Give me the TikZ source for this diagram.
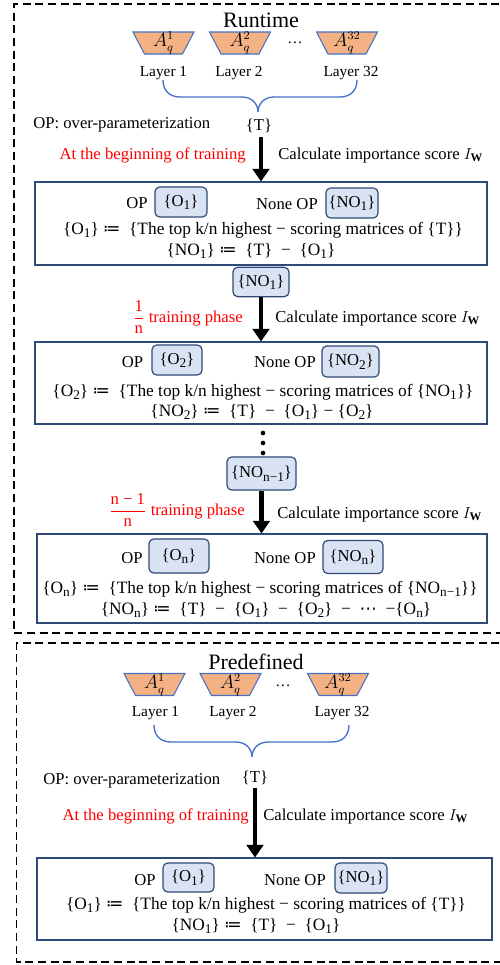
\documentclass[tikz,border=0pt]{standalone}
\usepackage{amsmath}
\usepackage{fontspec}
\setmainfont{Liberation Serif}
\newfontfamily\symf{DejaVu Sans}
\usetikzlibrary{arrows.meta}
\definecolor{boxc}{HTML}{2F4A78}
\definecolor{sfill}{HTML}{DAE3F3}
\definecolor{trapfill}{HTML}{F4B183}
\definecolor{trapline}{HTML}{4472C4}
\newcommand\sbs[1]{\raisebox{-0.45ex}{\fontsize{10}{12}\selectfont #1}}
\newcommand\ceq{{\symf ≔}}
\newcommand\mydots{{\symf ⋯}}
\newcommand\trapz[4]{%
  \draw[trap] (#1-30.5,#2-11) -- (#1+30.5,#2-11) -- (#1+19,#2+11) -- (#1-19,#2+11) -- cycle;
  \node[inner sep=0pt, font=\fontsize{13.5}{15}\selectfont] (#3) at (#1,#2) {#4};}
\begin{document}
\begin{tikzpicture}[x=0.75pt,y=-0.75pt,
  frame/.style={draw, line width=1.1pt, dash pattern=on 6pt off 3.5pt},
  bigbox/.style={draw=boxc, line width=0.8pt, inner sep=0pt},
  sbox/.style={draw=boxc, fill=sfill, rounded corners=3.5pt, line width=0.9pt, inner sep=0pt, font=\fontsize{12.5}{14}\selectfont},
  txt/.style={inner sep=0pt, font=\fontsize{12.5}{14}\selectfont},
  lay/.style={inner sep=0pt, font=\fontsize{11.5}{13}\selectfont},
  eq/.style={inner sep=0pt, font=\fontsize{13}{15}\selectfont},
  titletxt/.style={inner sep=0pt, font=\fontsize{16.5}{19}\selectfont},
  redtxt/.style={txt, text=red},
  trap/.style={draw=trapline, fill=trapfill, line width=0.8pt},
  brace/.style={draw=trapline, line width=1pt},
  bigarrow/.style={line width=3.3pt, -{Triangle[length=9.5pt,width=12.5pt]}},
  dotn/.style={circle, fill=black, inner sep=0pt, minimum size=3.5pt},
]
\useasboundingbox (0,0) rectangle (500,965);

% frames
\draw[frame] (512,4) -- (14,4) -- (14,633) -- (512,633);
\draw[frame] (512,643) -- (16.5,643) -- (16.5,962) -- (512,962);

% ---------------- Runtime ----------------
\node[titletxt] (rt) at (261,20) {Runtime};
\trapz{163.5}{43}{ta1}{$A_q^1$}
\trapz{240}{43}{ta2}{$A_q^2$}
\trapz{347}{43}{ta3}{$A_q^{32}$}
\node[lay] (tdots) at (295,43) {…};
\node[lay] (l1) at (163.5,73) {Layer 1};
\node[lay] (l2) at (239,73) {Layer 2};
\node[lay] (l3) at (351,73) {Layer 32};
\draw[brace] (163,80) .. controls (163,91) and (170,97) .. (180,97) -- (242,97)
  .. controls (252,97) and (258,104) .. (258,112)
  .. controls (258,104) and (264,97) .. (274,97) -- (340,97)
  .. controls (350,97) and (357,91) .. (357,80);
\node[txt, anchor=west] (op1) at (33,125) {OP: over-parameterization};
\node[txt] (T1) at (259,126) {\{T\}};
\node[redtxt, anchor=east] (r1) at (246,155) {At the beginning of training};
\node[txt, anchor=west] (c1) at (278,155) {Calculate importance score $I_{\mathbf{W}}$};

\node[bigbox, minimum width=339pt, minimum height=62.25pt] (b1) at (261,223.5) {};
\draw[bigarrow, shorten <=3pt] (T1.south -| b1.north) -- (b1.north);
\node[txt] (op1a) at (137,203) {OP};
\node[sbox, minimum width=39pt, minimum height=22.5pt] (o1) at (181,202) {\{O\sbs{1}\}};
\node[txt] (nop1) at (287,204) {None OP};
\node[sbox, minimum width=39pt, minimum height=22.5pt] (no1a) at (352,203) {\{NO\sbs{1}\}};
\node[eq] (e1a) at (263,230) {\{O\sbs{1}\} \ceq\ \ \{The top k/n highest − scoring matrices of \{T\}\}};
\node[eq] (e1b) at (251,251) {\{NO\sbs{1}\} \ceq\ \ \{T\} \ − \ \{O\sbs{1}\}};

\node[sbox, minimum width=42pt, minimum height=22pt] (m1) at (261,282) {\{NO\sbs{1}\}};
\node[bigbox, minimum width=339pt, minimum height=61.5pt] (b2) at (261,383) {};
\draw[bigarrow] (m1.south) -- (m1.south |- b2.north);
\node[redtxt, anchor=east] (r2) at (243,317) {$\dfrac{\text{1}}{\text{n}}$ training phase};
\node[txt, anchor=west] (c2) at (275,318) {Calculate importance score $I_{\mathbf{W}}$};
\node[txt] (op2a) at (132.5,362) {OP};
\node[sbox, minimum width=37.5pt, minimum height=22.5pt] (o2) at (177,360) {\{O\sbs{2}\}};
\node[txt] (nop2) at (285,362) {None OP};
\node[sbox, minimum width=42.75pt, minimum height=23.25pt] (no2) at (350.5,361.5) {\{NO\sbs{2}\}};
\node[eq] (e2a) at (263,392) {\{O\sbs{2}\} \ceq\ \ \{The top k/n highest − scoring matrices of \{NO\sbs{1}\}\}};
\node[eq] (e2b) at (262,412) {\{NO\sbs{2}\} \ceq\ \ \{T\} \ − \ \{O\sbs{1}\} − \{O\sbs{2}\}};

\node[dotn] (d1) at (263,433) {};
\node[dotn] (d2) at (263,443) {};
\node[dotn] (d3) at (263,453) {};

\node[sbox, minimum width=51.75pt, minimum height=24.75pt] (mn) at (261.5,473.5) {\{NO\sbs{n−1}\}};
\node[bigbox, minimum width=337.5pt, minimum height=66.75pt] (b3) at (262,578.5) {};
\draw[bigarrow] (mn.south) -- (mn.south |- b3.north);
\node[redtxt, anchor=east] (r3) at (245,510) {$\dfrac{\text{n − 1}}{\text{n}}$ training phase};
\node[txt, anchor=west] (c3) at (277,514) {Calculate importance score $I_{\mathbf{W}}$};
\node[txt] (op3a) at (132,558) {OP};
\node[sbox, minimum width=45pt, minimum height=25.5pt] (on) at (179,556) {\{O\sbs{n}\}};
\node[txt] (nop3) at (285,558) {None OP};
\node[sbox, minimum width=45pt, minimum height=24.75pt] (non) at (353,557) {\{NO\sbs{n}\}};
\node[eq] (e3a) at (260,589) {\{O\sbs{n}\} \ceq\ \ \{The top k/n highest − scoring matrices of \{NO\sbs{n−1}\}\}};
\node[eq] (e3b) at (266,610) {\{NO\sbs{n}\} \ceq\ \ \{T\} \ − \ \{O\sbs{1}\} \ − \ \{O\sbs{2}\} \ − \ \mydots\ \ −\{O\sbs{n}\}};

% ---------------- Predefined ----------------
\node[titletxt] (pd) at (256,662) {Predefined};
\trapz{154.5}{684.5}{pa1}{$A_q^1$}
\trapz{230.5}{684.5}{pa2}{$A_q^2$}
\trapz{338}{684.5}{pa3}{$A_q^{32}$}
\node[lay] (pdots) at (283,686) {…};
\node[lay] (pl1) at (155.5,713) {Layer 1};
\node[lay] (pl2) at (233,713) {Layer 2};
\node[lay] (pl3) at (342,713) {Layer 32};
\draw[brace] (154,725) .. controls (154,736) and (161,742) .. (171,742) -- (236,742)
  .. controls (246,742) and (252,749) .. (252,757)
  .. controls (252,749) and (258,742) .. (268,742) -- (332,742)
  .. controls (342,742) and (349,736) .. (349,725);
\node[txt, anchor=west] (op4) at (43,781) {OP: over-parameterization};
\node[txt] (T2) at (255,778) {\{T\}};
\node[redtxt, anchor=east] (r4) at (249,816) {At the beginning of training};
\node[txt, anchor=west] (c4) at (263,816) {Calculate importance score $I_{\mathbf{W}}$};

\node[bigbox, minimum width=341.25pt, minimum height=61.5pt] (b4) at (264.5,899) {};
\draw[bigarrow, shorten <=2pt] (T2.south) -- (T2.south |- b4.north);
\node[txt] (op4a) at (145,880) {OP};
\node[sbox, minimum width=38.25pt, minimum height=21.75pt] (o1b) at (188.5,877.5) {\{O\sbs{1}\}};
\node[txt] (nop4) at (295,880) {None OP};
\node[sbox, minimum width=39pt, minimum height=22.5pt] (no1b) at (361,878) {\{NO\sbs{1}\}};
\node[eq] (e4a) at (266,905) {\{O\sbs{1}\} \ceq\ \ \{The top k/n highest − scoring matrices of \{T\}\}};
\node[eq] (e4b) at (256,926) {\{NO\sbs{1}\} \ceq\ \ \{T\} \ − \ \{O\sbs{1}\}};
\end{tikzpicture}
\end{document}
